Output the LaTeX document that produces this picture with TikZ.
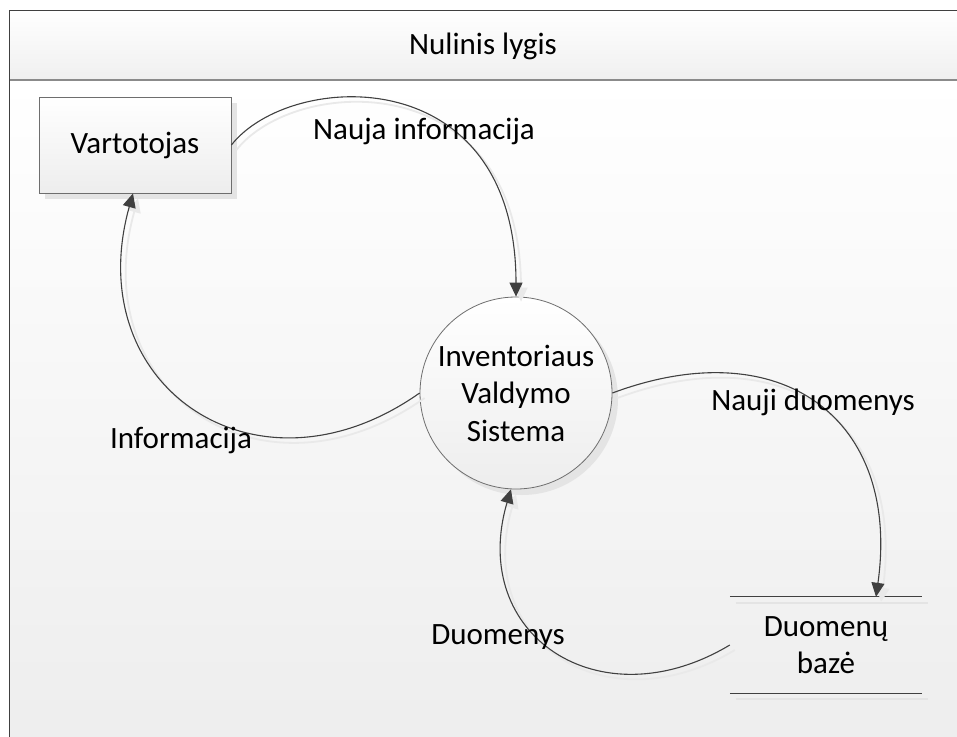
\documentclass[tikz,border=0pt]{standalone}
\usepackage{fontspec}
\setmainfont{Carlito}
\usetikzlibrary{arrows.meta,shadows}
\definecolor{ink}{HTML}{404040}
\definecolor{edge}{HTML}{6E6E6E}
\definecolor{shade}{HTML}{E4E4E4}
\begin{document}
\begin{tikzpicture}[x=1pt,y=-1pt,
  every node/.style={font=\fontsize{31}{37.5}\selectfont, text=black},
  softshadow/.style={drop shadow={shadow xshift=6pt, shadow yshift=-6pt, fill=shade, opacity=1}},
  flow/.style={draw=ink, line width=1.1pt, -{Triangle[length=14pt,width=13pt]},
    preaction={draw=shade!80!white, line width=1.8pt, transform canvas={shift={(5pt,-5pt)}}}},
  procbox/.style={draw=edge, line width=0.8pt, minimum width=192pt, minimum height=96pt,
    top color=white, bottom color=black!7, softshadow},
  process/.style={circle, draw=edge, line width=0.8pt, minimum size=192pt, inner sep=0pt,
    align=center, top color=white, bottom color=black!7, softshadow},
  storebox/.style={minimum width=192pt, minimum height=96pt, inner sep=0pt, align=center},
  storeline/.style={draw=ink, line width=1.2pt},
  storeshadow/.style={draw=shade, line width=1.6pt}
]
\clip (0,0) rectangle (957,736);
\fill[white] (0,0) rectangle (957,736);

% frame with title bar
\shade[top color=white, bottom color=black!7] (9.5,80) rectangle (975,750);
\shade[top color=white, bottom color=black!6] (9.5,10.5) rectangle (975,80);
\draw[edge!80, line width=1.6pt] (9.5,80) -- (975,80);
\draw[ink, line width=1.6pt] (9.5,750) -- (9.5,10.5) -- (975,10.5);
\node (title) at (483,46) {Nulinis lygis};

% external entity, process and data store
\node[procbox] (user) at (135,145) {Vartotojas};
\node[process] (ivs) at (516,393) {Inventoriaus\\Valdymo\\Sistema};
\node[storebox] (db) at (826,645) {Duomenų\\bazė};
\draw[storeshadow] ([xshift=6pt,yshift=-6pt]db.north west) -- ([xshift=6pt,yshift=-6pt]db.north east);
\draw[storeshadow] ([xshift=6pt,yshift=-6pt]db.south west) -- ([xshift=6pt,yshift=-6pt]db.south east);
\draw[storeline] (db.north west) -- (db.north east);
\draw[storeline] (db.south west) -- (db.south east);

% data flows
\draw[flow] (user.east) .. controls +(59,-75) and +(0,-237) .. (ivs.north);
\draw[flow] (ivs.west) .. controls +(-163,115) and +(-54,193) .. ([xshift=-2pt]user.south);
\draw[flow] (ivs.east) .. controls +(169,-63) and +(25,-178) .. ([xshift=50pt]db.north);
\draw[flow] (db.west) .. controls +(-130,78) and +(-43,146) .. (ivs.-93);

% flow labels
\node (lblA) at (424,131) {Nauja informacija};
\node (lblB) at (181,440) {Informacija};
\node (lblC) at (813,402) {Nauji duomenys};
\node (lblD) at (498,637) {Duomenys};
\end{tikzpicture}
\end{document}
